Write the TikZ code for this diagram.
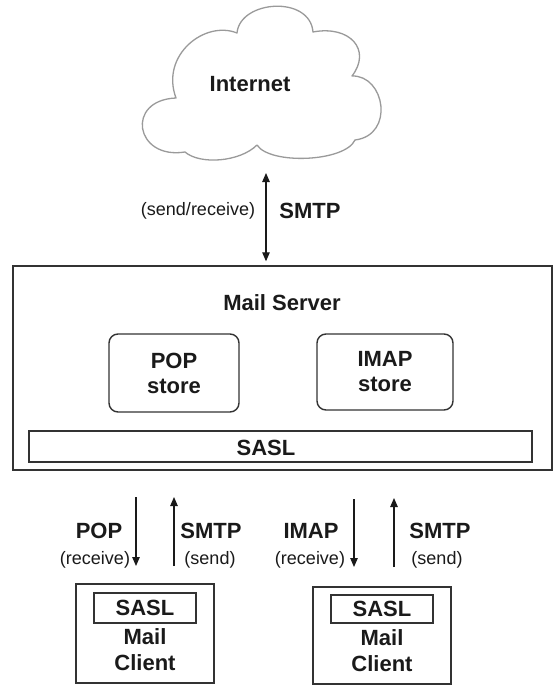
\documentclass[tikz,border=0pt]{standalone}
\usepackage{fontspec}
\setmainfont{Liberation Sans}
\usetikzlibrary{arrows.meta}
\definecolor{ink}{HTML}{1A1A1A}
\definecolor{edge}{HTML}{333333}
\definecolor{cloudline}{HTML}{9A9A9A}
\begin{document}
\begin{tikzpicture}[x=1pt,y=-1pt,
  every node/.style={inner sep=0pt, text=ink},
  lbl/.style={font=\fontsize{22}{25}\selectfont\bfseries, align=center},
  sub/.style={font=\fontsize{18}{21}\selectfont},
  box/.style={draw=edge, line width=1.4pt},
  storebox/.style={box, rounded corners=9pt, lbl},
  flow/.style={draw=ink, line width=1.1pt, >={Triangle[length=9pt,width=7.5pt]}},
]
% canvas
\fill[white] (0,0) rectangle (553,685);
\useasboundingbox (0,0) rectangle (553,685);

% Internet cloud
\draw[cloudline, line width=1.3pt, line join=round]
  (176,98) .. controls (160,55) and (205,20) .. (237,33)
  .. controls (240,0) and (310,-5) .. (313,32)
  .. controls (350,25) and (372,50) .. (352,76)
  .. controls (385,75) and (395,135) .. (355,140)
  .. controls (345,162) and (270,165) .. (257,145)
  .. controls (240,162) and (200,165) .. (185,152)
  .. controls (135,160) and (125,100) .. (176,98) -- cycle;
\node[lbl, anchor=base] (inet) at (250,92) {Internet};

% mail server
\node[box, minimum width=539pt, minimum height=204pt] (server) at (282.5,368) {};
\node[lbl, anchor=base] (srvtitle) at (282,310) {Mail Server};
\node[storebox, minimum width=130pt, minimum height=78pt] (popstore) at (174,373) {POP\\store};
\node[storebox, minimum width=136pt, minimum height=76pt] (imapstore) at (385,372) {IMAP\\store};
\node[box, minimum width=503pt, minimum height=31pt] (sasl) at (280.5,446.5) {};
\node[lbl, anchor=base] (sasltext) at (266,455) {SASL};

% link to the Internet
\coordinate (inetport) at (266,173);
\draw[flow, <->, shorten >=4pt] (inetport) -- (inetport |- server.north);
\node[sub, anchor=base] (sr) at (198,215) {(send/receive)};
\node[lbl, anchor=base] (smtptop) at (310,218) {SMTP};

% mail clients
\node[box, minimum width=138pt, minimum height=99pt] (client1) at (145,633.5) {};
\node[box, lbl, minimum width=102pt, minimum height=30pt] (csasl1) at (145,608) {SASL};
\node[lbl, font=\fontsize{22}{26}\selectfont\bfseries] (cname1) at (145,650) {Mail\\Client};

\node[box, minimum width=138pt, minimum height=97pt] (client2) at (382,635.5) {};
\node[box, lbl, minimum width=102pt, minimum height=28pt] (csasl2) at (382,609) {SASL};
\node[lbl, font=\fontsize{22}{26}\selectfont\bfseries] (cname2) at (382,650.5) {Mail\\Client};

% client links
\coordinate (popA) at (136,497);  \coordinate (popB) at (136,566);
\coordinate (smtpA) at (174,566); \coordinate (smtpB) at (174,497);
\coordinate (imapA) at (354,499); \coordinate (imapB) at (354,567);
\coordinate (smtpC) at (394,567); \coordinate (smtpD) at (394,498);
\draw[flow, ->] (popA) -- (popB);
\draw[flow, ->] (smtpA) -- (smtpB);
\draw[flow, ->] (imapA) -- (imapB);
\draw[flow, ->] (smtpC) -- (smtpD);

\node[lbl, anchor=base] (poplbl) at (99,538) {POP};
\node[sub, anchor=base] (poprx) at (95,564) {(receive)};
\node[lbl, anchor=base] (smtplbl1) at (211,538) {SMTP};
\node[sub, anchor=base] (smtptx1) at (210,564) {(send)};
\node[lbl, anchor=base] (imaplbl) at (311,538) {IMAP};
\node[sub, anchor=base] (imaprx) at (310,564) {(receive)};
\node[lbl, anchor=base] (smtplbl2) at (440,538) {SMTP};
\node[sub, anchor=base] (smtptx2) at (437,564) {(send)};
\end{tikzpicture}
\end{document}
